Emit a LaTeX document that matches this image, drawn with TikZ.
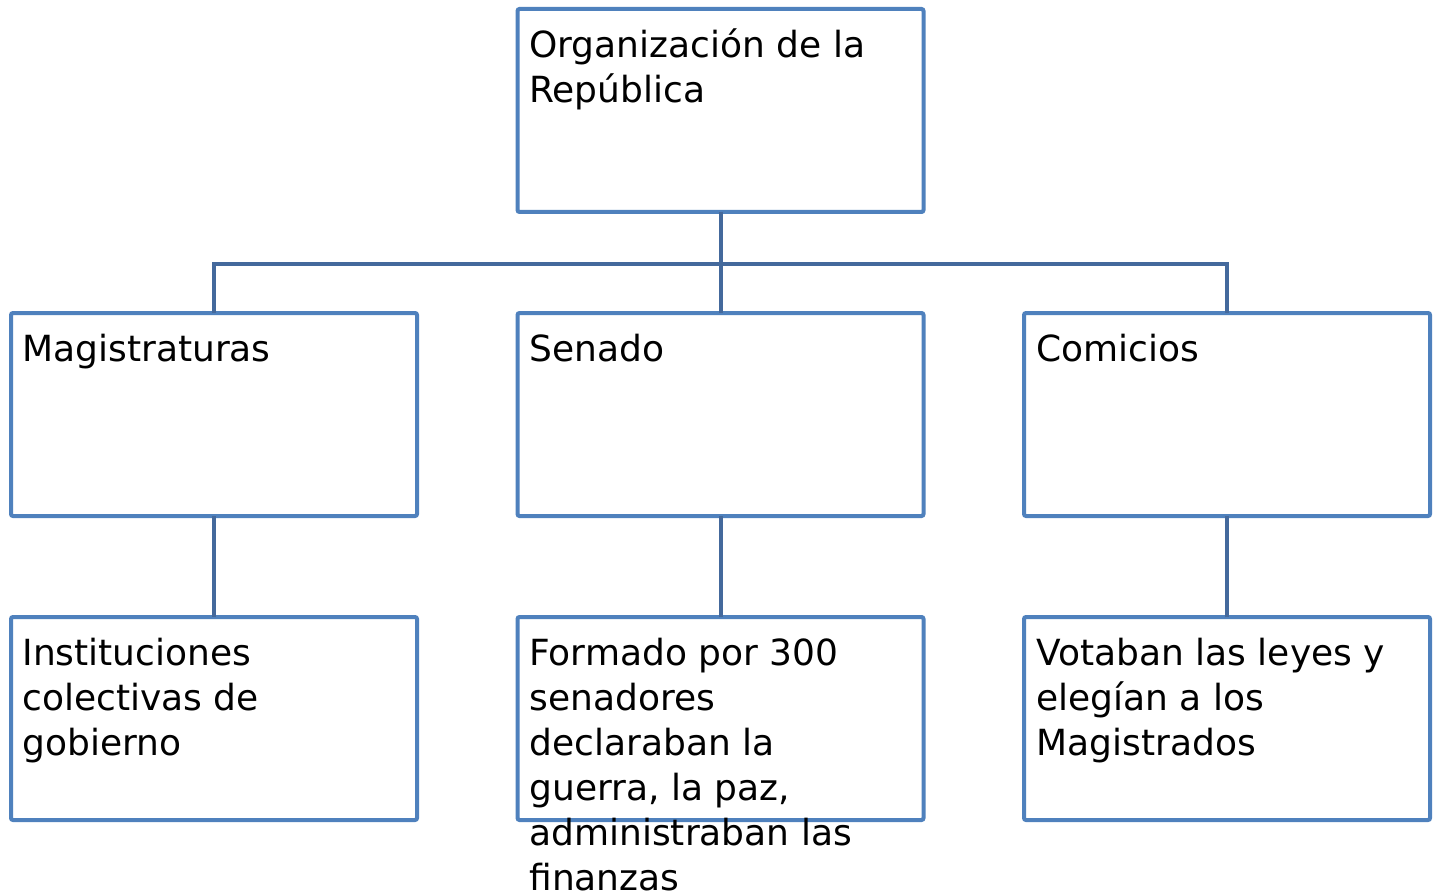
\documentclass[tikz,border=0pt]{standalone}
\usepackage{fontspec}
\setmainfont{DejaVu Sans}
\definecolor{boxblue}{HTML}{4F81BD}
\definecolor{lineblue}{HTML}{44699C}
\begin{document}
\begin{tikzpicture}[x=0.5pt,y=-0.5pt,
  orgbox/.style={draw=boxblue,line width=2pt,fill=white,rounded corners=1pt,
    minimum width=203pt,minimum height=101.5pt,inner sep=0pt,outer sep=0pt,anchor=north west},
  orgtext/.style={anchor=north west,inner sep=0pt,align=left,
    font=\fontsize{18}{22.5}\selectfont},
  conn/.style={draw=lineblue,line width=2pt}]
\useasboundingbox (0,0) rectangle (1433,893);
% connectors (drawn first, boxes on top)
\coordinate (hub) at (720.5,264);
\coordinate (hl) at (214,264);
\coordinate (hr) at (1227,264);
% boxes
\node[orgbox] (top) at (517.5,9) {};
\node[orgbox] (mag) at (11,313) {};
\node[orgbox] (sen) at (517.5,313) {};
\node[orgbox] (com) at (1024,313) {};
\node[orgbox] (ins) at (11,617) {};
\node[orgbox] (for) at (517.5,617) {};
\node[orgbox] (vot) at (1024,617) {};
\draw[conn] (top.south) -- (hub);
\draw[conn] (mag.north) -- (hl) -- (hr) -- (com.north);
\draw[conn] (hub) -- (sen.north);
\draw[conn] (mag.south) -- (ins.north);
\draw[conn] (sen.south) -- (for.north);
\draw[conn] (com.south) -- (vot.north);
% texts
\node[orgtext] (ttop) at (529,25.5) {\strut Organización de la\\República};
\node[orgtext] (tmag) at (22,329.5) {\strut Magistraturas};
\node[orgtext] (tsen) at (529,329.5) {\strut Senado};
\node[orgtext] (tcom) at (1036,329.5) {\strut Comicios};
\node[orgtext] (tins) at (22,633.5) {\strut Instituciones\\colectivas de\\gobierno};
\node[orgtext] (tfor) at (529,633.5) {\strut Formado por 300\\senadores\\declaraban la\\guerra, la paz,\\administraban las\\finanzas};
\node[orgtext] (tvot) at (1036,633.5) {\strut Votaban las leyes y\\elegían a los\\Magistrados};
\end{tikzpicture}
\end{document}
